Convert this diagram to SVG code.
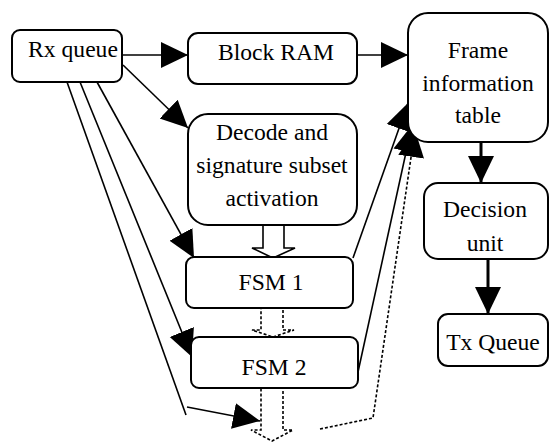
<svg xmlns="http://www.w3.org/2000/svg" width="550" height="442" viewBox="0 0 550 442">
<style>
.box{fill:#fff;stroke:#000;stroke-width:2}
.c{fill:none;stroke:#000;stroke-width:1.6}
.thick{stroke-width:3}
.dot{fill:none;stroke:#000;stroke-width:1.6;stroke-dasharray:3 2}
.blk{fill:#fff;stroke:#000;stroke-width:1.6}
</style>
<defs>
<marker id="ah" markerUnits="userSpaceOnUse" markerWidth="28" markerHeight="28" refX="27" refY="13" orient="auto" viewBox="0 0 28 26">
<path d="M0,0 L27,13 L0,26 z" fill="#000"/>
</marker>
</defs>
<rect width="550" height="442" fill="#fff"/>
<g id="connectors">
<line class="c" x1="122" y1="55" x2="188" y2="55" stroke-width="2" marker-end="url(#ah)"/>
<line class="c" x1="357" y1="55" x2="408" y2="55" stroke-width="2" marker-end="url(#ah)"/>
<line class="c" x1="123" y1="65" x2="188" y2="128" marker-end="url(#ah)"/>
<line class="c thick" x1="481" y1="142" x2="481" y2="183" marker-end="url(#ah)"/>
<line class="c thick" x1="488" y1="259" x2="488" y2="314" marker-end="url(#ah)"/>
<line class="c" x1="97" y1="82" x2="194" y2="258" marker-end="url(#ah)"/>
<line class="c" x1="80" y1="82" x2="192" y2="357" marker-end="url(#ah)"/>
<line class="c" x1="67" y1="82" x2="186" y2="415"/>
<line class="c" x1="187" y1="407" x2="260" y2="421" marker-end="url(#ah)"/>
<line class="c" x1="353" y1="258" x2="408" y2="103" marker-end="url(#ah)"/>
<line class="c" x1="358" y1="372" x2="412" y2="125" marker-end="url(#ah)"/>
<polyline class="dot" points="320,429 373,418 415,130" marker-end="url(#ah)"/>
<polygon class="blk" points="263,223 284,223 284,248 295,248 273,258 252,248 263,248"/>
<polygon class="dot" points="261,307 283,307 283,330 294,330 273,337 252,330 261,330"/>
<polygon class="dot" points="261,388 283,388 283,430 293,430 272,441 251,430 261,430"/>
</g>
<g font-family="Liberation Serif, DejaVu Serif, serif" font-size="23.6" fill="#000" text-anchor="middle">
<g id="rx-queue">
<rect class="box" x="12" y="30" width="110" height="52" rx="8"/>
<text x="73" y="57">Rx queue</text>
</g>
<g id="block-ram">
<rect class="box" x="188" y="33" width="169" height="51" rx="10"/>
<text x="276" y="60">Block RAM</text>
</g>
<g id="frame-info">
<rect class="box" x="408" y="13" width="140" height="129" rx="20"/>
<text x="478" y="58">Frame</text>
<text x="478" y="91">information</text>
<text x="478" y="123">table</text>
</g>
<g id="decode">
<rect class="box" x="188" y="114" width="169" height="111" rx="20"/>
<text x="272" y="140">Decode and</text>
<text x="272" y="173">signature subset</text>
<text x="272" y="206">activation</text>
</g>
<g id="decision">
<rect class="box" x="424" y="183" width="124" height="76" rx="14"/>
<text x="485" y="217">Decision</text>
<text x="485" y="251">unit</text>
</g>
<g id="tx-queue">
<rect class="box" x="438" y="314" width="110" height="52" rx="10"/>
<text x="493" y="350">Tx Queue</text>
</g>
<g id="fsm1">
<rect class="box" x="186" y="257" width="167" height="51" rx="8"/>
<text x="271" y="290">FSM 1</text>
</g>
<g id="fsm2">
<rect class="box" x="191" y="337" width="167" height="51" rx="8"/>
<text x="274" y="375">FSM 2</text>
</g>
</g>
</svg>
